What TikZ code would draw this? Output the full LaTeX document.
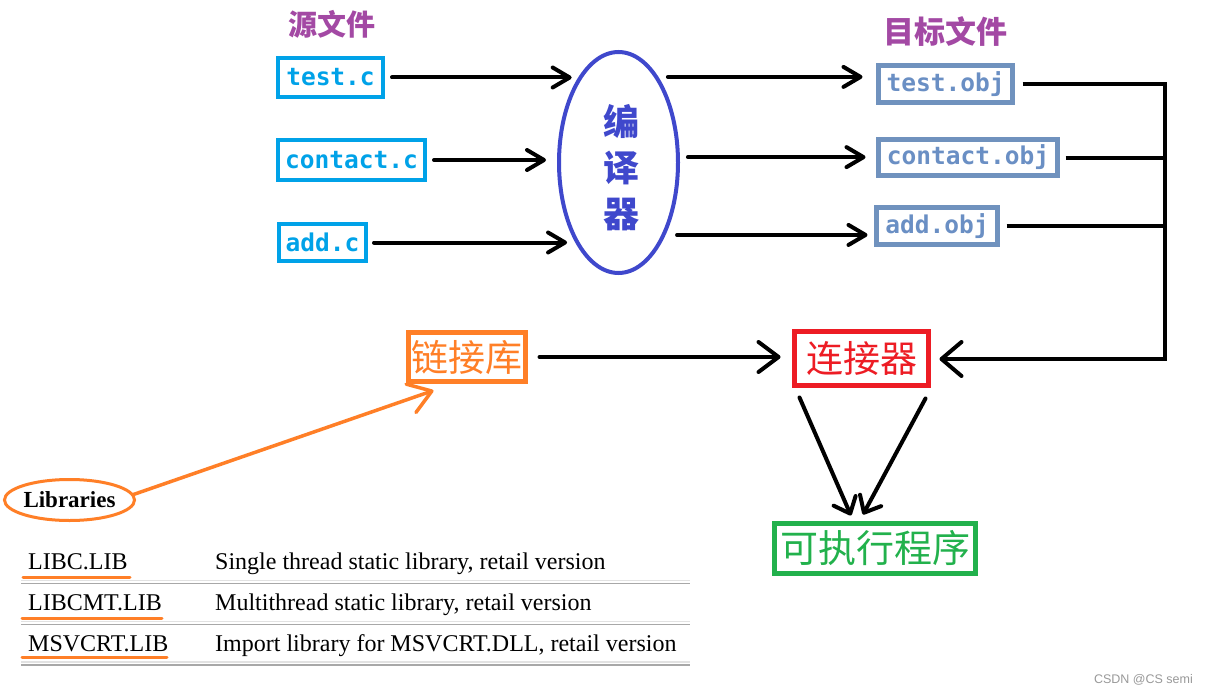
\documentclass[tikz,border=0pt]{standalone}
\usepackage{fontspec}
\setmainfont{Liberation Serif}
\newfontfamily\cjk{Noto Sans CJK SC}
\newfontfamily\monof{DejaVu Sans Mono}
\newfontfamily\wmf{Liberation Sans}
\usetikzlibrary{arrows.meta,shapes.geometric,calc}
\definecolor{ttl}{HTML}{A349A4}
\definecolor{cyn}{HTML}{00A2E8}
\definecolor{blu}{HTML}{3F48CC}
\definecolor{stl}{HTML}{7092BE}
\definecolor{objtxt}{HTML}{6A8FC4}
\definecolor{rd}{HTML}{ED1C24}
\definecolor{org}{HTML}{FF7F27}
\definecolor{grn}{HTML}{22B14C}
\definecolor{lgray}{HTML}{E2E2E2}
\definecolor{dgray}{HTML}{A8A8A8}
\tikzset{
  srcbox/.style={draw=cyn, line width=4pt, text=cyn, inner sep=0pt,
    font=\monof\bfseries\fontsize{24.5}{28}\selectfont},
  objbox/.style={draw=stl, line width=5pt, text=objtxt, inner sep=0pt,
    font=\monof\bfseries\fontsize{24.5}{28}\selectfont},
  bigbox/.style={line width=5pt, inner sep=0pt, font=\cjk\fontsize{37}{40}\selectfont},
  title/.style={text=ttl, inner sep=0pt, font=\cjk\bfseries\fontsize{29}{32}\selectfont},
  arr/.style={line width=4pt, line cap=round, line join=round,
    -{Straight Barb[length=17pt,width=20pt,round]}},
  bigarr/.style={line width=4pt, line cap=round, line join=round,
    -{Straight Barb[length=20pt,width=30pt,round]}},
  downarr/.style={line width=4pt, line cap=round, line join=round,
    -{Straight Barb[length=14pt,width=24pt,round]}},
  wire/.style={line width=4pt, line join=miter},
  tabtext/.style={inner sep=0pt, anchor=base west, font=\fontsize{24}{28}\selectfont},
  uline/.style={draw=org, line width=3pt, line cap=round},
}
\begin{document}
\begin{tikzpicture}[x=1pt,y=-1pt]
\fill[white] (0,0) rectangle (1208,693);
\useasboundingbox (0,0) rectangle (1208,693);

% titles
\node[title] (srctitle) at (332,24) {源文件};
\node[title, font=\cjk\bfseries\fontsize{31}{34}\selectfont] (objtitle) at (945,32) {目标文件};

% source files
\node[srcbox, minimum width=105pt, minimum height=39pt] (testc) at (330.5,77.5) {test.c};
\node[srcbox, minimum width=147pt, minimum height=40pt] (contactc) at (351.5,160) {contact.c};
\node[srcbox, minimum width=87pt, minimum height=37pt] (addc) at (322.5,242.5) {add.c};

% compiler
\node[ellipse, draw=blu, line width=4pt, inner sep=0pt,
      minimum width=119pt, minimum height=221pt] (comp) at (618.5,162.5) {};
\node[text=blu, inner sep=0pt, align=center,
      font=\cjk\bfseries\fontsize{36}{46}\selectfont] (comptext) at (621,168) {编\\译\\器};

% object files
\node[objbox, minimum width=134pt, minimum height=37pt] (testobj) at (945.5,84) {test.obj};
\node[objbox, minimum width=179pt, minimum height=36pt] (contactobj) at (968,157.5) {contact.obj};
\node[objbox, minimum width=121pt, minimum height=37pt] (addobj) at (937,226) {add.obj};

% linker, library, executable
\node[bigbox, draw=rd, text=rd, minimum width=134pt, minimum height=54pt] (linker) at (861.5,358.5) {连接器};
\node[bigbox, draw=org, text=org, minimum width=117pt, minimum height=49pt] (lib) at (467,357) {链接库};
\node[bigbox, draw=grn, text=grn, font=\cjk\fontsize{38}{40}\selectfont,
      minimum width=201pt, minimum height=50pt] (exe) at (875,548.5) {可执行程序};

% Libraries ellipse
\node[ellipse, draw=org, line width=3pt, inner sep=0pt, minimum width=130pt, minimum height=41pt,
      font=\bfseries\fontsize{23}{26}\selectfont] (libs) at (69.5,500) {Libraries};

% bus coordinate
\coordinate (bus) at (1165,359);

% arrows source -> compiler
\draw[arr, shorten <=7pt, shorten >=8pt] (testc.east) -- (testc.east -| comp.114);
\draw[arr, shorten <=7pt, shorten >=11pt] (contactc.east) -- (contactc.east -| comp.west);
\draw[arr, shorten <=6pt, shorten >=9.5pt] (addc.east) -- (addc.east -| comp.243);

% compiler -> objects
\draw[arr, shorten <=9.5pt, shorten >=13.5pt] (comp.65) -- (comp.65 -| testobj.west);
\draw[arr, shorten <=8pt, shorten >=10.5pt] (comp.5) -- (comp.5 -| contactobj.west);
\draw[arr, shorten <=11.5pt, shorten >=6.5pt] (comp.303) -- (comp.303 -| addobj.west);

% objects -> bus -> linker
\draw[wire, shorten <=7.5pt, shorten >=8.5pt, -{Straight Barb[length=20pt,width=34pt,round]}]
  (testobj.east) -- (testobj.east -| bus) -- (bus) -- (bus -| linker.east);
\draw[wire, shorten <=5.5pt] (contactobj.east) -- (contactobj.east -| bus);
\draw[wire, shorten <=6.5pt] (addobj.east) -- (addobj.east -| bus);

% library -> linker
\draw[bigarr, shorten <=11.5pt, shorten >=11.5pt] (lib.east) -- (lib.east -| linker.west);

% linker -> executable
\draw[downarr] ($(linker.south west)+(7.5,9.5)$) -- ($(exe.north)+(-24,-5.5)$);
\draw[downarr] ($(linker.south east)+(-5.5,10.5)$) -- ($(exe.north)+(-12,-6.5)$);

% Libraries -> library
\draw[draw=org, line width=3.5pt, line cap=round, line join=round,
      -{Straight Barb[length=22pt,width=30pt,round]}]
  (libs.5) -- ($(lib.south west)+(27.5,6.5)$);

% table
\node[tabtext] (l1) at (28,569) {LIBC.LIB};
\node[tabtext] (d1) at (215,569) {Single thread static library, retail version};
\node[tabtext] (l2) at (28,610) {LIBCMT.LIB};
\node[tabtext] (d2) at (215,610) {Multithread static library, retail version};
\node[tabtext] (l3) at (28,651) {MSVCRT.LIB};
\node[tabtext] (d3) at (215,651) {Import library for MSVCRT.DLL, retail version};

\draw[uline] (23,577) -- (130,577);
\draw[uline] (22,618) -- (162,618);
\draw[uline] (22,657) -- (167,657);

\draw[lgray, line width=1.5pt] (21,580.5) -- (690,580.5);
\draw[dgray, line width=1.5pt] (21,583.3) -- (690,583.3);
\draw[lgray, line width=1.5pt] (21,621.3) -- (690,621.3);
\draw[dgray, line width=1.5pt] (21,624.3) -- (690,624.3);
\draw[lgray, line width=1.5pt] (21,662) -- (690,662);
\draw[dgray, line width=1.5pt] (21,665) -- (690,665);

% watermark
\node[text=black!40, inner sep=0pt, anchor=east, font=\wmf\fontsize{12.5}{14}\selectfont] (wm) at (1193,680) {CSDN @CS semi};
\end{tikzpicture}
\end{document}
